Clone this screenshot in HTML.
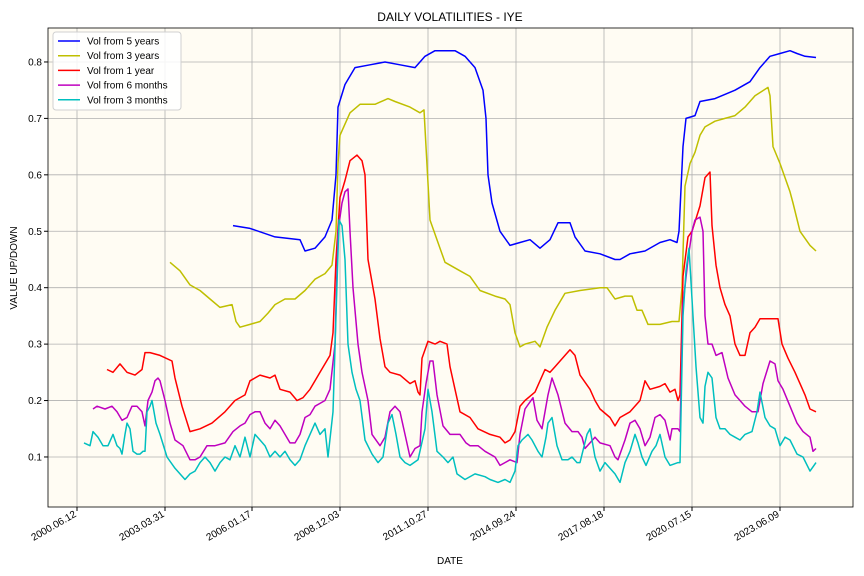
<!DOCTYPE html>
<html><head><meta charset="utf-8"><style>
body{margin:0;background:#fff;font-family:"Liberation Sans",sans-serif;}
svg{display:block}
</style></head><body>
<svg id="chart" width="864" height="576" xmlns="http://www.w3.org/2000/svg">
<text x="450" y="21" text-anchor="middle" font-size="12">DAILY VOLATILITIES - IYE</text>
<text x="450" y="564" text-anchor="middle" font-size="10">DATE</text>
<text x="17" y="268" text-anchor="middle" font-size="10" transform="rotate(-90 17 268)">VALUE UP/DOWN</text>
</svg>
<script>
// time unit: 1 unit ≈ 11.6 days (axis time units)
const tickTimes=[77,165,252,340,428,516,604,692,780];
const tickLabels=["2000.06.12","2003.03.31","2006.01.17","2008.12.03","2011.10.27","2014.09.24","2017.08.18","2020.07.15","2023.06.09"];
const yTicks=[0.1,0.2,0.3,0.4,0.5,0.6,0.7,0.8];
const seriesNames=["Vol from 5 years","Vol from 3 years","Vol from 1 year","Vol from 6 months","Vol from 3 months"];
const t5=[233,250,275,300,305,315,325,332,336,338,345,355,370,385,400,415,425,435,455,465,475,483,486,488,492,500,510,520,530,540,550,558,570,575,585,600,615,620,630,645,660,670,677,679,683,686,695,700,715,735,750,760,770,780,790,797,805,816];
const v5=[0.51,0.505,0.49,0.485,0.465,0.47,0.49,0.52,0.6,0.72,0.76,0.79,0.795,0.8,0.795,0.79,0.81,0.82,0.82,0.81,0.79,0.75,0.7,0.6,0.55,0.5,0.475,0.48,0.485,0.47,0.485,0.515,0.515,0.49,0.465,0.46,0.45,0.45,0.46,0.465,0.48,0.485,0.48,0.5,0.65,0.7,0.705,0.73,0.735,0.75,0.765,0.79,0.81,0.815,0.82,0.815,0.81,0.808];
const t3y=[170,180,190,200,210,220,232,236,240,250,260,268,275,285,295,305,315,325,332,336,338,340,350,360,375,388,395,410,420,424,426,430,440,445,460,470,480,495,505,510,515,520,525,535,540,547,555,565,580,600,607,615,625,632,637,642,648,660,672,679,682,685,690,695,700,705,715,725,735,745,755,768,770,773,780,790,793,800,810,816];
const v3y=[0.445,0.43,0.405,0.395,0.38,0.365,0.37,0.34,0.33,0.335,0.34,0.355,0.37,0.38,0.38,0.395,0.415,0.425,0.44,0.5,0.62,0.67,0.71,0.725,0.725,0.735,0.73,0.72,0.71,0.715,0.65,0.52,0.47,0.445,0.43,0.42,0.395,0.385,0.38,0.37,0.32,0.295,0.3,0.305,0.295,0.33,0.36,0.39,0.395,0.4,0.4,0.38,0.385,0.385,0.36,0.36,0.335,0.335,0.34,0.34,0.4,0.58,0.62,0.64,0.67,0.685,0.695,0.7,0.705,0.72,0.74,0.755,0.74,0.65,0.62,0.57,0.55,0.5,0.475,0.465];
const t1y=[107,113,120,127,135,142,145,150,160,172,175,182,190,200,212,225,235,245,250,260,270,275,280,290,297,303,310,320,330,333,336,340,345,350,357,362,365,368,375,380,385,390,400,410,415,418,420,422,428,435,440,447,450,455,460,470,478,490,500,505,510,515,520,525,535,545,550,555,565,570,575,580,590,595,600,610,615,620,630,640,645,650,660,665,670,675,678,680,683,688,692,700,705,710,712,716,720,725,730,735,740,745,750,755,760,770,778,782,788,795,800,805,810,816];
const v1y=[0.255,0.25,0.265,0.25,0.245,0.255,0.285,0.285,0.28,0.27,0.24,0.19,0.145,0.15,0.16,0.18,0.2,0.21,0.235,0.245,0.24,0.245,0.22,0.215,0.2,0.205,0.22,0.25,0.28,0.32,0.45,0.56,0.59,0.625,0.635,0.625,0.6,0.45,0.38,0.31,0.26,0.25,0.245,0.23,0.235,0.215,0.21,0.275,0.305,0.3,0.305,0.3,0.26,0.22,0.18,0.17,0.15,0.14,0.135,0.125,0.13,0.145,0.19,0.2,0.215,0.255,0.25,0.26,0.28,0.29,0.28,0.245,0.22,0.2,0.185,0.17,0.155,0.17,0.18,0.2,0.235,0.22,0.225,0.23,0.215,0.22,0.2,0.21,0.42,0.49,0.5,0.545,0.595,0.605,0.51,0.44,0.4,0.37,0.35,0.3,0.28,0.28,0.32,0.33,0.345,0.345,0.345,0.3,0.275,0.25,0.23,0.21,0.185,0.18];
const t6m=[93,97,105,112,117,122,127,132,137,142,145,148,152,155,158,160,165,170,175,183,190,195,200,207,215,225,233,240,245,250,255,260,265,270,275,280,285,290,295,300,305,310,315,320,325,330,335,338,342,345,348,350,353,358,362,368,372,380,385,390,395,400,405,410,415,420,422,426,430,433,437,443,450,460,466,470,478,485,495,500,505,510,517,520,525,533,537,542,548,552,558,565,572,578,582,585,590,595,600,610,615,618,625,630,635,640,645,650,655,660,665,670,672,678,680,683,688,692,695,700,703,705,708,712,716,722,728,735,740,745,752,758,763,770,775,778,783,790,797,803,810,813,816];
const v6m=[0.185,0.19,0.185,0.19,0.18,0.165,0.17,0.19,0.19,0.18,0.155,0.2,0.215,0.235,0.24,0.235,0.2,0.16,0.13,0.12,0.095,0.095,0.1,0.12,0.12,0.125,0.145,0.155,0.16,0.175,0.18,0.18,0.16,0.15,0.165,0.155,0.14,0.125,0.125,0.14,0.17,0.175,0.19,0.195,0.2,0.22,0.3,0.5,0.55,0.57,0.575,0.5,0.4,0.3,0.25,0.2,0.14,0.12,0.135,0.18,0.19,0.18,0.14,0.1,0.115,0.12,0.18,0.23,0.27,0.27,0.21,0.155,0.14,0.14,0.125,0.12,0.12,0.11,0.1,0.085,0.09,0.095,0.09,0.14,0.185,0.205,0.165,0.15,0.21,0.24,0.21,0.16,0.145,0.145,0.135,0.115,0.125,0.135,0.125,0.12,0.1,0.095,0.13,0.16,0.165,0.15,0.12,0.135,0.17,0.175,0.165,0.13,0.15,0.15,0.145,0.37,0.45,0.5,0.52,0.525,0.5,0.35,0.3,0.3,0.28,0.285,0.24,0.21,0.2,0.19,0.18,0.18,0.23,0.27,0.265,0.235,0.22,0.19,0.16,0.145,0.135,0.11,0.115];
const t3m=[84,90,93,98,103,108,113,117,120,122,125,127,130,133,137,140,143,145,147,150,152,156,160,167,175,180,185,190,195,200,205,210,215,220,225,230,235,240,245,250,255,260,265,270,275,280,285,290,295,300,305,310,315,320,325,328,333,336,339,342,345,348,352,356,360,365,372,378,383,388,392,396,400,405,410,418,425,428,432,437,443,448,453,457,465,475,485,490,498,505,510,515,518,522,528,532,538,542,546,548,552,557,562,568,572,577,580,587,590,595,600,605,610,615,620,625,630,635,638,642,646,652,656,660,665,670,678,680,683,686,689,693,696,700,703,705,708,712,716,720,725,730,735,740,745,752,757,760,765,770,775,780,785,790,797,803,810,814,816];
const v3m=[0.125,0.12,0.145,0.135,0.12,0.12,0.14,0.12,0.115,0.105,0.14,0.16,0.15,0.11,0.105,0.105,0.11,0.11,0.18,0.19,0.2,0.16,0.14,0.1,0.08,0.07,0.06,0.07,0.075,0.09,0.1,0.09,0.075,0.09,0.1,0.095,0.12,0.1,0.135,0.1,0.14,0.13,0.12,0.1,0.11,0.1,0.11,0.095,0.085,0.095,0.12,0.14,0.16,0.14,0.15,0.1,0.18,0.35,0.52,0.51,0.45,0.3,0.25,0.22,0.2,0.13,0.105,0.09,0.1,0.16,0.175,0.14,0.1,0.09,0.085,0.095,0.15,0.22,0.18,0.11,0.1,0.09,0.1,0.07,0.06,0.07,0.065,0.06,0.055,0.06,0.055,0.075,0.12,0.13,0.14,0.13,0.11,0.1,0.135,0.16,0.17,0.12,0.095,0.095,0.1,0.09,0.09,0.14,0.15,0.1,0.075,0.09,0.08,0.07,0.055,0.09,0.11,0.14,0.125,0.1,0.085,0.11,0.12,0.14,0.1,0.085,0.09,0.09,0.35,0.43,0.47,0.35,0.26,0.17,0.16,0.225,0.25,0.24,0.17,0.15,0.15,0.14,0.135,0.13,0.14,0.145,0.18,0.215,0.17,0.155,0.15,0.12,0.135,0.13,0.105,0.1,0.075,0.085,0.09];

const NS="http://www.w3.org/2000/svg";
const svg=document.getElementById('chart');
const L=48,R=853,T=28,B=507;
const xDomain=[48,853];
const yDomain=[0.01134,0.8602];
function xs(t){return L+(t-xDomain[0])/(xDomain[1]-xDomain[0])*(R-L);}
function ys(v){return B-(v-yDomain[0])/(yDomain[1]-yDomain[0])*(B-T);}
function mk(tag,attrs,parent){const e=document.createElementNS(NS,tag);for(const k in attrs)e.setAttribute(k,attrs[k]);(parent||svg).appendChild(e);return e;}

const bg=mk('rect',{x:L,y:T,width:R-L,height:B-T,fill:'#fffcf3'});


const grid=mk('g',{stroke:'#b0b0b0','stroke-width':0.8});


tickTimes.forEach((t,i)=>{
  const x=xs(t);
  mk('line',{x1:x,x2:x,y1:T,y2:B},grid);
  mk('line',{x1:x,x2:x,y1:B,y2:B+4,stroke:'#000'});
  const lb=mk('text',{x:x,y:B+9,'text-anchor':'end','font-size':10,transform:`rotate(-30 ${x} ${B+9})`});
  lb.textContent=tickLabels[i];
  
  
});
yTicks.forEach(v=>{
  const y=ys(v);
  mk('line',{x1:L,x2:R,y1:y,y2:y},grid);
  mk('line',{x1:L-4,x2:L,y1:y,y2:y,stroke:'#000'});
  const lb=mk('text',{x:L-6,y:y+3.5,'text-anchor':'end','font-size':10});
  lb.textContent=v.toFixed(1);
  
  
});
const colors=['#0000ff','#bfbf00','#ff0000','#bf00bf','#00bfbf'];
const ts=[t5,t3y,t1y,t6m,t3m], vs=[v5,v3y,v1y,v6m,v3m];
const ids=['line-5-years','line-3-years','line-1-year','line-6-months','line-3-months'];
ts.forEach((tt,i)=>{
  const d=tt.map((t,j)=>(j?'L':'M')+xs(t).toFixed(1)+','+ys(vs[i][j]).toFixed(1)).join('');
  const p=mk('path',{d:d,fill:'none',stroke:colors[i],'stroke-width':1.5,'stroke-linejoin':'round'});
  
  
});
const frame=mk('rect',{x:L,y:T,width:R-L,height:B-T,fill:'none',stroke:'#000','stroke-width':0.8});


const lg=mk('g',{});


mk('rect',{x:53,y:32,width:128,height:78,rx:3,fill:'#fff','fill-opacity':0.85,stroke:'#d0d0d0'},lg);
seriesNames.forEach((n,i)=>{
  const y=41+i*14.7;
  const en=mk('g',{},lg);
  
  
  mk('line',{x1:58,x2:80,y1:y,y2:y,stroke:colors[i],'stroke-width':1.5},en);
  const tx=mk('text',{x:87,y:y+3.5,'font-size':10},en);
  tx.textContent=n;
});
</script>
</body></html>
